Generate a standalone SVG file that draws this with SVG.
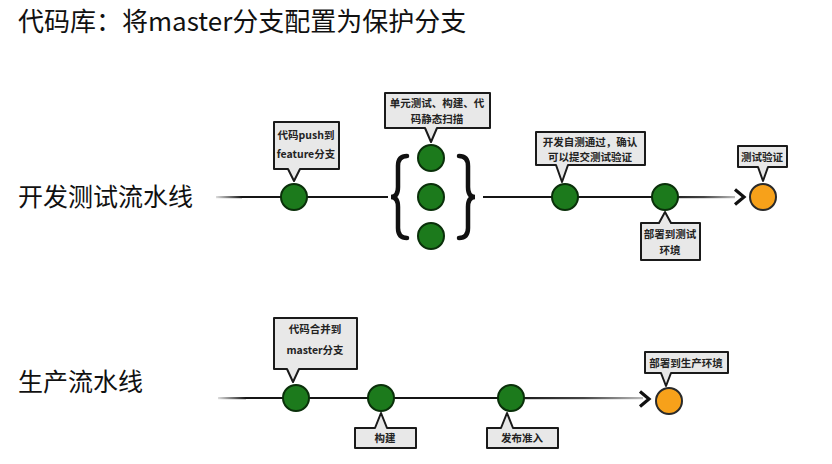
<svg xmlns="http://www.w3.org/2000/svg" width="832" height="464" viewBox="0 0 832 464">
<defs>
<style>
.title{font-family:"Noto Sans CJK SC","Noto Sans",sans-serif;font-size:25px;fill:#111}
.head{font-family:"Noto Sans CJK SC","Noto Sans",sans-serif;font-size:26px;fill:#111}
.lbl{font-family:"Noto Sans CJK SC","Noto Sans",sans-serif;font-size:10.5px;font-weight:bold;fill:#222;text-anchor:middle}
.call{fill:#e8e8e8;stroke:#1a1a1a;stroke-width:2;stroke-linejoin:round}
.g{fill:#1c7a1c;stroke:#0a300a;stroke-width:2}
.o{fill:#f7a11a;stroke:#2a2a2a;stroke-width:2}
.ln{stroke:#151515;stroke-width:2.2;fill:none}
.arr{stroke:#111;stroke-width:3.2;fill:none;stroke-linejoin:miter}
.brace{stroke:#111;stroke-width:4.5;fill:none;stroke-linecap:round}
</style>
<linearGradient id="fadeT" x1="0" x2="1" y1="0" y2="0">
<stop offset="0" stop-color="#151515"/>
<stop offset="0.55" stop-color="#444"/>
<stop offset="1" stop-color="#bbb"/>
</linearGradient>
<linearGradient id="fadeL" x1="0" x2="1" y1="0" y2="0">
<stop offset="0" stop-color="#ddd"/>
<stop offset="1" stop-color="#151515"/>
</linearGradient>
</defs>
<rect width="832" height="464" fill="#fff"/>
<text class="head" x="18" y="31">代码库：将master分支配置为保护分支</text>
<text class="title" x="18" y="206">开发测试流水线</text>
<text class="title" x="18" y="391">生产流水线</text>

<g id="connectors">
<rect x="216" y="196" width="26" height="2.2" fill="url(#fadeL)"/>
<line class="ln" x1="242" y1="197" x2="388" y2="197"/>
<line class="ln" x1="483" y1="197" x2="665" y2="197"/>
<rect x="665" y="196" width="70" height="2.2" fill="url(#fadeT)"/>
<path class="arr" d="M735 189.5 L744 197 L735 204.5"/>
<rect x="218" y="397" width="28" height="2.2" fill="url(#fadeL)"/>
<line class="ln" x1="246" y1="398" x2="511" y2="398"/>
<rect x="511" y="397" width="132" height="2.2" fill="url(#fadeT)"/>
<path class="arr" d="M640 391.5 L649 399 L640 406.5"/>
</g>

<g id="brace-left"><path class="brace" d="M407 156 Q398 156 398 166 L398 187 Q398 197 391 197 Q398 197 398 207 L398 228 Q398 238 407 238"/></g>
<g id="brace-right"><path class="brace" d="M459 156 Q468 156 468 166 L468 187 Q468 197 475 197 Q468 197 468 207 L468 228 Q468 238 459 238"/></g>

<g id="n-push"><circle class="g" cx="294" cy="197" r="13"/></g>
<g id="n-test1"><circle class="g" cx="431" cy="158" r="13"/></g>
<g id="n-test2"><circle class="g" cx="431" cy="197" r="13"/></g>
<g id="n-test3"><circle class="g" cx="431" cy="236" r="13"/></g>
<g id="n-selftest"><circle class="g" cx="565" cy="197" r="13"/></g>
<g id="n-deploytest"><circle class="g" cx="665" cy="197" r="13"/></g>
<g id="n-verify"><circle class="o" cx="763" cy="197" r="13"/></g>

<g id="n-merge"><circle class="g" cx="296" cy="398" r="13"/></g>
<g id="n-build"><circle class="g" cx="381" cy="398" r="13"/></g>
<g id="n-release"><circle class="g" cx="511" cy="398" r="13"/></g>
<g id="n-prod"><circle class="o" cx="669" cy="401" r="13"/></g>

<g id="c-push">
<path class="call" d="M274 122 H339 V169 H300 L294 181 L288 169 H274 Z"/>
<text class="lbl" x="306" y="139">代码push到</text>
<text class="lbl" x="306" y="158">feature分支</text>
</g>
<g id="c-test">
<path class="call" d="M385 93 H490 V128 H437 L431 142 L425 128 H385 Z"/>
<text class="lbl" x="437" y="107">单元测试、构建、代</text>
<text class="lbl" x="437" y="123">码静态扫描</text>
</g>
<g id="c-selftest">
<path class="call" d="M536 132 H645 V165 H568 L562 182 L556 165 H536 Z"/>
<text class="lbl" x="590" y="146">开发自测通过，确认</text>
<text class="lbl" x="590" y="161">可以提交测试验证</text>
</g>
<g id="c-deploytest">
<path class="call" d="M641 223 H659 L665 212 L671 223 H700 V260 H641 Z"/>
<text class="lbl" x="670" y="238">部署到测试</text>
<text class="lbl" x="670" y="254">环境</text>
</g>
<g id="c-verify">
<path class="call" d="M738 146 H787 V167 H768 L763 181 L758 167 H738 Z"/>
<text class="lbl" x="762" y="161">测试验证</text>
</g>

<g id="c-merge">
<path class="call" d="M274 318 H357 V369 H299 L293 382 L287 369 H274 Z"/>
<text class="lbl" x="315" y="333">代码合并到</text>
<text class="lbl" x="315" y="354">master分支</text>
</g>
<g id="c-build">
<path class="call" d="M355 428 H375 L381 413 L387 428 H416 V448 H355 Z"/>
<text class="lbl" x="385" y="442">构建</text>
</g>
<g id="c-release">
<path class="call" d="M487 428 H501 L507 413 L513 428 H558 V448 H487 Z"/>
<text class="lbl" x="522" y="442">发布准入</text>
</g>
<g id="c-prod">
<path class="call" d="M645 352 H728 V373 H671 L666 386 L661 373 H645 Z"/>
<text class="lbl" x="686" y="367">部署到生产环境</text>
</g>
</svg>
